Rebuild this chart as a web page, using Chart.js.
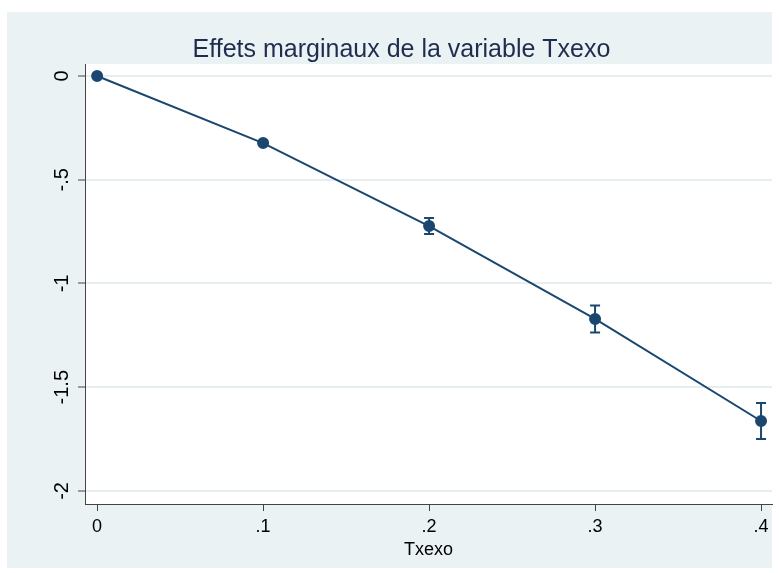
<!DOCTYPE html>
<html>
<head>
<meta charset="utf-8">
<script src="https://cdn.jsdelivr.net/npm/chart.js@4"></script>
<style>
  body { margin: 0; background: #fff; }
  #wrap { position: absolute; left: 7px; top: 12px; width: 772px; height: 556px; }
</style>
</head>
<body>
<div id="wrap"><canvas id="chart-txexo"></canvas></div>
<script>
const txexo = [0, 0.1, 0.2, 0.3, 0.4];
const effet = [0, -0.323, -0.723, -1.171, -1.663];
const ciLow = [0, -0.333, -0.762, -1.236, -1.75];
const ciHigh = [0, -0.313, -0.684, -1.106, -1.576];
const xTicks = [0, 0.1, 0.2, 0.3, 0.4];
const yTicks = [0, -0.5, -1, -1.5, -2];
const titre = "Effets marginaux de la variable Txexo";
const xTitre = "Txexo";

const navy = '#1a476f';
const font = '"Liberation Sans", Arial, sans-serif';

// Stata style labels: .1 / -.5
function fmt(v) {
  let s = String(Math.round(v * 100) / 100);
  return s.replace(/^(-?)0\./, '$1.');
}

// fond gris-bleu + zone blanche
const fond = {
  id: 'fond',
  beforeDraw(chart) {
    const { ctx, chartArea: a } = chart;
    ctx.save();
    ctx.fillStyle = '#eaf2f3';
    ctx.fillRect(0, 0, 765, chart.height);
    ctx.fillStyle = '#ffffff';
    ctx.fillRect(a.left, a.top, a.right - a.left, a.bottom - a.top);
    ctx.restore();
  }
};

// barres d'erreur, titre, libelles des axes
const extras = {
  id: 'extras',
  afterDatasetsDraw(chart) {
    const { ctx, scales: { x, y } } = chart;
    ctx.save();
    ctx.strokeStyle = navy;
    ctx.lineWidth = 2;
    txexo.forEach((v, i) => {
      if (ciHigh[i] === ciLow[i]) return;
      const px = x.getPixelForValue(v);
      const y1 = y.getPixelForValue(ciHigh[i]);
      const y2 = y.getPixelForValue(ciLow[i]);
      ctx.beginPath();
      ctx.moveTo(px, y1); ctx.lineTo(px, y2);
      ctx.moveTo(px - 5, y1); ctx.lineTo(px + 5, y1);
      ctx.moveTo(px - 5, y2); ctx.lineTo(px + 5, y2);
      ctx.stroke();
    });
    ctx.restore();
  },
  afterDraw(chart) {
    const { ctx, chartArea: a, scales: { x, y } } = chart;
    ctx.save();
    ctx.fillStyle = '#1e2d4f';
    ctx.font = '25px ' + font;
    ctx.textAlign = 'center';
    ctx.textBaseline = 'alphabetic';
    ctx.fillText(titre, 765 / 2 + 12, 45);

    ctx.fillStyle = '#000';
    ctx.font = '20px ' + font;
    ctx.textBaseline = 'middle';
    yTicks.forEach(v => {
      ctx.save();
      ctx.translate(55, y.getPixelForValue(v));
      ctx.rotate(-Math.PI / 2);
      ctx.fillText(fmt(v), 0, 0);
      ctx.restore();
    });

    ctx.font = '18px ' + font;
    ctx.textBaseline = 'alphabetic';
    xTicks.forEach(v => {
      ctx.fillText(fmt(v), x.getPixelForValue(v), 520);
    });
    ctx.fillText(xTitre, (a.left + a.right) / 2, 543);
    ctx.restore();
  }
};

new Chart(document.getElementById('chart-txexo'), {
  type: 'scatter',
  data: {
    datasets: [{
      data: txexo.map((v, i) => ({ x: v, y: effet[i] })),
      showLine: true,
      borderColor: navy,
      backgroundColor: navy,
      borderWidth: 2,
      pointRadius: 5,
      pointHoverRadius: 5,
    }],
  },
  options: {
    responsive: true,
    maintainAspectRatio: false,
    animation: false,
    layout: { padding: { top: 52, right: 4, left: 0, bottom: 0 } },
    plugins: {
      legend: { display: false },
      title: { display: false },
      tooltip: { enabled: false },
    },
    scales: {
      x: {
        type: 'linear',
        min: -0.0073,
        max: 0.4066,
        afterFit: s => { s.height = 64; },
        afterBuildTicks: s => { s.ticks = xTicks.map(v => ({ value: v })); },
        grid: { drawOnChartArea: false, tickLength: 7, tickColor: '#444', tickWidth: 1 },
        border: { display: true, color: '#444', width: 1 },
        ticks: { display: false },
      },
      y: {
        min: -2.063,
        max: 0.058,
        afterFit: s => { s.width = 78; },
        afterBuildTicks: s => { s.ticks = yTicks.map(v => ({ value: v })); },
        grid: { color: '#e6eef1', lineWidth: 2, tickLength: 7, tickColor: '#444', tickWidth: 1 },
        border: { display: true, color: '#444', width: 1 },
        ticks: { display: false },
      },
    },
  },
  plugins: [fond, extras],
});
</script>
</body>
</html>
